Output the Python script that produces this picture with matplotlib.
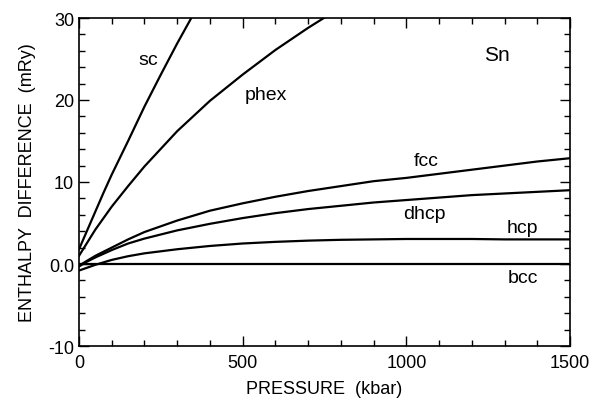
import matplotlib
matplotlib.use("Agg")
import matplotlib.pyplot as plt
from matplotlib.ticker import MultipleLocator, FixedFormatter, FixedLocator

# dane (cisnienie w kbar, roznica entalpii w mRy)
p_sc = [0, 25, 50, 75, 100, 150, 200, 250, 300, 350]
h_sc = [1.8, 4.1, 6.4, 8.7, 10.9, 15.0, 19.2, 23.1, 26.9, 30.5]

p_phex = [0, 25, 50, 100, 150, 200, 300, 400, 500, 600, 700, 760]
h_phex = [1.0, 2.6, 4.2, 7.0, 9.5, 11.9, 16.2, 19.9, 23.1, 26.1, 28.8, 30.3]

p_grid = [0, 25, 50, 100, 150, 200, 300, 400, 500, 600, 700, 800, 900, 1000, 1100, 1200, 1300, 1400, 1500]
h_fcc = [-0.2, 0.4, 1.0, 2.0, 3.0, 3.9, 5.3, 6.5, 7.4, 8.2, 8.9, 9.5, 10.1, 10.5, 11.0, 11.5, 12.0, 12.5, 12.9]
h_dhcp = [-0.3, 0.3, 0.8, 1.7, 2.5, 3.1, 4.1, 4.9, 5.6, 6.2, 6.7, 7.1, 7.5, 7.8, 8.1, 8.4, 8.6, 8.8, 9.0]
h_hcp = [-0.8, -0.45, -0.1, 0.5, 0.95, 1.3, 1.8, 2.2, 2.5, 2.7, 2.85, 2.95, 3.0, 3.05, 3.05, 3.05, 3.0, 3.0, 3.0]
h_bcc = [0.0] * len(p_grid)

yticks = [-10, 0, 10, 20, 30]
ytick_labels = ["-10", "0.0", "10", "20", "30"]
xticks = [0, 500, 1000, 1500]

plt.rcParams['font.family'] = ['Liberation Sans', 'DejaVu Sans']

fig = plt.figure(figsize=(5.95, 4.02), dpi=100)
ax = fig.add_axes([79 / 595, 1 - 347 / 402, (570 - 79) / 595, (347 - 19) / 402])

lw = 1.6
ax.plot(p_sc, h_sc, color='black', lw=lw)
ax.plot(p_phex, h_phex, color='black', lw=lw)
ax.plot(p_grid, h_fcc, color='black', lw=lw)
ax.plot(p_grid, h_dhcp, color='black', lw=lw)
ax.plot(p_grid, h_hcp, color='black', lw=lw)
ax.plot(p_grid, h_bcc, color='black', lw=lw)

ax.set_xlim(0, 1500)
ax.set_ylim(-10, 30)

ax.xaxis.set_major_locator(FixedLocator(xticks))
ax.xaxis.set_minor_locator(MultipleLocator(100))
ax.yaxis.set_major_locator(FixedLocator(yticks))
ax.yaxis.set_major_formatter(FixedFormatter(ytick_labels))
ax.yaxis.set_minor_locator(MultipleLocator(2))
ax.tick_params(which='both', direction='in', top=True, right=True, labelsize=13)
ax.tick_params(which='major', length=7, width=1)
ax.tick_params(which='minor', length=4, width=1)
ax.tick_params(axis='x', pad=6)
for s in ax.spines.values():
    s.set_linewidth(1.2)

ax.set_xlabel("PRESSURE  (kbar)", fontsize=13, labelpad=6)
ax.set_ylabel("ENTHALPY  DIFFERENCE  (mRy)", fontsize=13, labelpad=9)

fs = 14
ax.text(211, 24.9, "sc", fontsize=fs, ha='center', va='center')
ax.text(572, 20.7, "phex", fontsize=fs, ha='center', va='center')
ax.text(1278, 25.5, "Sn", fontsize=15, ha='center', va='center')
ax.text(1062, 12.6, "fcc", fontsize=fs, ha='center', va='center')
ax.text(1055, 6.1, "dhcp", fontsize=fs, ha='center', va='center')
ax.text(1355, 4.5, "hcp", fontsize=fs, ha='center', va='center')
ax.text(1355, -1.6, "bcc", fontsize=fs, ha='center', va='center')

fig.savefig("out.png", dpi=100)
